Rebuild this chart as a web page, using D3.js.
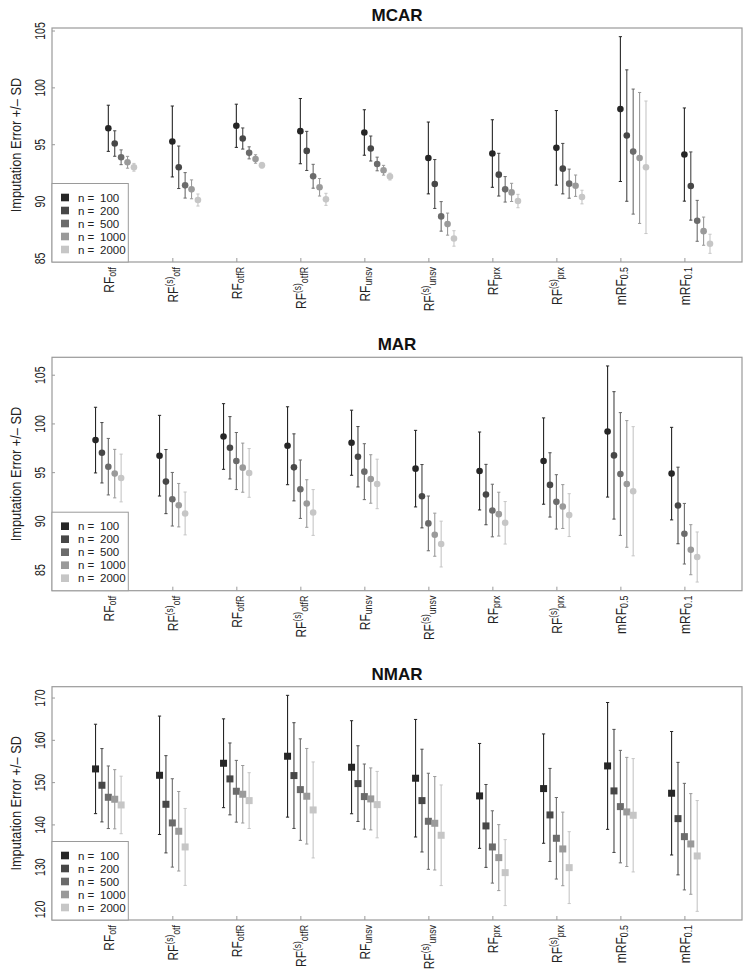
<!DOCTYPE html>
<html><head><meta charset="utf-8">
<script src="https://cdn.jsdelivr.net/npm/d3@7"></script>
<style>
html,body{margin:0;padding:0;background:#fff;}
svg{display:block;font-family:"Liberation Sans",Arial,Helvetica,sans-serif;}
</style></head>
<body><svg id="chart" width="751" height="979"></svg>
<script>
// ---------- data ----------
const methodBase = ["RF","RF","RF","RF","RF","RF","RF","RF","mRF","mRF"];
const methodSup  = ["","(s)","","(s)","","(s)","","(s)","",""];
const methodSub  = ["otf","otf","otfR","otfR","unsv","unsv","prx","prx","0.5","0.1"];
const sampleSizes = [100, 200, 500, 1000, 2000];
const panelTitles = ["MCAR","MAR","NMAR"];

const mcarMean = [
  [96.40,95.06,93.85,93.41,92.97],
  [95.24,92.97,91.38,91.03,90.09],
  [96.62,95.50,94.24,93.70,93.15],
  [96.15,94.41,92.18,91.21,90.15],
  [96.03,94.62,93.26,92.71,92.15],
  [93.79,91.50,88.65,87.97,86.71],
  [94.18,92.32,91.03,90.76,90.00],
  [94.68,92.85,91.53,91.35,90.35],
  [98.09,95.76,94.35,93.79,92.97],
  [94.09,91.32,88.26,87.35,86.24]];
const mcarSD = [
  [2.03,1.12,0.65,0.52,0.34],
  [3.12,1.87,1.12,0.83,0.53],
  [1.90,0.93,0.53,0.37,0.25],
  [2.87,1.72,1.05,0.77,0.53],
  [2.00,1.10,0.60,0.43,0.30],
  [3.16,2.15,1.30,0.97,0.68],
  [2.97,1.88,1.12,0.80,0.59],
  [3.28,2.22,1.28,0.94,0.60],
  [6.37,5.78,5.50,5.76,5.83],
  [4.10,3.00,1.80,1.24,0.84]];

const marMean = [
  [98.29,96.99,95.56,94.85,94.40],
  [96.69,94.03,92.22,91.61,90.76],
  [98.66,97.50,96.14,95.46,94.92],
  [97.71,95.49,93.25,91.78,90.86],
  [98.02,96.58,95.05,94.30,93.79],
  [95.36,92.53,89.74,88.58,87.62],
  [95.12,92.70,91.06,90.69,89.80],
  [96.14,93.69,91.95,91.47,90.59],
  [99.17,96.72,94.81,93.79,93.04],
  [94.85,91.58,88.68,87.04,86.29]];
const marSD = [
  [3.37,3.10,2.90,2.49,2.45],
  [4.14,3.29,2.75,2.23,2.20],
  [3.37,3.20,2.93,2.52,2.50],
  [4.00,3.44,3.00,2.44,2.35],
  [3.34,3.10,2.87,2.49,2.54],
  [3.93,3.25,2.81,2.21,2.35],
  [4.00,3.10,2.70,2.25,2.18],
  [4.43,3.30,2.79,2.25,2.20],
  [6.73,6.54,6.30,6.50,6.63],
  [4.75,3.93,3.11,2.57,2.57]];

const nmarMean = [
  [153.12,149.26,146.42,145.95,144.60],
  [151.62,144.76,140.35,138.38,134.67],
  [154.46,150.76,147.84,147.13,145.63],
  [156.12,151.55,148.23,146.66,143.42],
  [153.52,149.65,146.58,146.03,144.68],
  [150.92,145.63,140.74,140.27,137.43],
  [146.74,139.64,134.67,132.15,128.60],
  [148.47,142.24,136.72,134.20,129.78],
  [153.83,147.92,144.21,142.95,142.16],
  [147.37,141.37,137.11,135.38,132.54]];
const nmarSD = [
  [10.57,8.67,7.40,7.00,6.80],
  [14.00,11.50,10.45,9.40,9.10],
  [10.50,8.50,7.30,6.80,6.60],
  [14.40,12.50,12.00,11.30,11.35],
  [11.00,8.95,7.70,7.33,7.85],
  [13.90,12.15,11.36,11.05,11.90],
  [12.40,9.80,8.55,7.80,7.80],
  [12.93,11.00,9.64,8.70,8.50],
  [15.00,14.55,13.30,12.90,13.40],
  [14.60,13.30,12.60,11.90,13.10]];

const mcarTicks = [85,90,95,100,105];
const marTicks  = [85,90,95,100,105];
const nmarTicks = [120,130,140,150,160,170];

// ---------- layout ----------
const svg = d3.select("#chart");
const boxL = 52, boxR = 742;
const greys = ["#262626","#474747","#6b6b6b","#9a9a9a","#c6c6c6"];
const frame = "#9a9a9a";
const ink = "#222";

const panels = [
  {title:panelTitles[0], mean:mcarMean, sd:mcarSD, ticks:mcarTicks, top:28,    bottom:262,   shift:0,  shape:"circle"},
  {title:panelTitles[1], mean:marMean,  sd:marSD,  ticks:marTicks,  top:357.3, bottom:590.7, shift:-2, shape:"circle"},
  {title:panelTitles[2], mean:nmarMean, sd:nmarSD, ticks:nmarTicks, top:686.7, bottom:920,   shift:-2, shape:"square"}
];

const x = d3.scaleLinear().domain([0.12, 10.9]).range([boxL, boxR]);

panels.forEach(p => {
  const g = svg.append("g");
  const lo = [], hi = [];
  p.mean.forEach((row,i)=>row.forEach((m,j)=>{lo.push(m-p.sd[i][j]); hi.push(m+p.sd[i][j]);}));
  const mn = d3.min(lo), mx = d3.max(hi), pad = (mx-mn)*0.04;
  const y = d3.scaleLinear().domain([mn-pad, mx+pad]).range([p.bottom, p.top]);

  // frame
  g.append("rect").attr("x",boxL).attr("y",p.top).attr("width",boxR-boxL).attr("height",p.bottom-p.top)
    .attr("fill","none").attr("stroke",frame).attr("stroke-width",1.2);

  // title
  g.append("text").attr("x",(boxL+boxR)/2).attr("y",p.top-7).attr("text-anchor","middle")
    .attr("font-weight","bold").attr("font-size",17).attr("fill","#111").text(p.title);

  // y axis
  const ya = g.append("g").attr("transform",`translate(${boxL},0)`)
    .call(d3.axisLeft(y).tickValues(p.ticks).tickSize(-3).tickPadding(0).tickFormat(d3.format("d")));
  ya.select(".domain").remove();
  ya.selectAll(".tick line").attr("stroke",frame);
  ya.selectAll(".tick text").remove();
  ya.selectAll(".tick").append("text")
    .attr("transform","translate(-7,0) rotate(-90) scale(0.75,1)")
    .attr("text-anchor","middle").attr("fill",ink).attr("font-size",14)
    .attr("font-family","Liberation Sans, Arial, sans-serif")
    .text(d=>d);

  // y label
  g.append("text").attr("transform",`translate(21,${(p.top+p.bottom)/2}) rotate(-90) scale(0.9,1)`)
    .attr("text-anchor","middle").attr("font-size",14.2).attr("fill",ink)
    .text("Imputation Error +/\u2013 SD");

  // x axis
  const xa = g.append("g").attr("transform",`translate(0,${p.bottom})`)
    .call(d3.axisBottom(x).tickValues(d3.range(1,11)).tickSize(-4).tickFormat(""));
  xa.select(".domain").remove();
  xa.selectAll(".tick line").attr("stroke",frame);

  // x labels
  d3.range(10).forEach(i=>{
    const t = g.append("text")
      .attr("transform",`translate(${x(i+1)+6},${p.bottom+5}) rotate(-90) scale(0.8,1)`)
      .attr("text-anchor","end").attr("font-size",15).attr("fill",ink);
    t.append("tspan").text(methodBase[i]);
    if (methodSup[i]) {
      t.append("tspan").attr("font-size",10.5).attr("dy",-5).text(methodSup[i]);
      t.append("tspan").attr("font-size",11).attr("dy",7).text(methodSub[i]);
    } else {
      t.append("tspan").attr("font-size",11).attr("dy",2).text(methodSub[i]);
    }
  });

  // legend
  const lgTop = p.bottom - 78.5;
  const lg = g.append("g");
  lg.append("rect").attr("x",boxL).attr("y",lgTop).attr("width",128.3-boxL).attr("height",p.bottom-lgTop)
    .attr("fill","#fff").attr("stroke",frame).attr("stroke-width",1);
  sampleSizes.forEach((n,j)=>{
    const cy = lgTop + 14 + j*13;
    lg.append("rect").attr("x",61).attr("y",cy-3.8).attr("width",8).attr("height",7.6).attr("fill",greys[j]);
    lg.append("text").attr("x",78).attr("y",cy+4).attr("font-size",11.5).attr("fill",ink).text("n =");
    lg.append("text").attr("x",100).attr("y",cy+4).attr("font-size",11.5).attr("fill",ink).text(n);
  });

  // error bars & points
  p.mean.forEach((row,i)=>{
    row.forEach((m,j)=>{
      const cx = x(i+1 + (j + p.shift)*0.1);
      const s = p.sd[i][j];
      const c = greys[j];
      g.append("line").attr("x1",cx).attr("x2",cx).attr("y1",y(m-s)).attr("y2",y(m+s))
        .attr("stroke",c).attr("stroke-width",1.1);
      [m-s, m+s].forEach(v=>{
        g.append("line").attr("x1",cx-1.6).attr("x2",cx+1.6).attr("y1",y(v)).attr("y2",y(v))
          .attr("stroke",c).attr("stroke-width",1);
      });
      if (p.shape==="circle") {
        g.append("circle").attr("cx",cx).attr("cy",y(m)).attr("r",3.3).attr("fill",c);
      } else {
        g.append("rect").attr("x",cx-3.5).attr("y",y(m)-3.5).attr("width",7).attr("height",7).attr("fill",c);
      }
    });
  });
});
</script>
</body></html>
